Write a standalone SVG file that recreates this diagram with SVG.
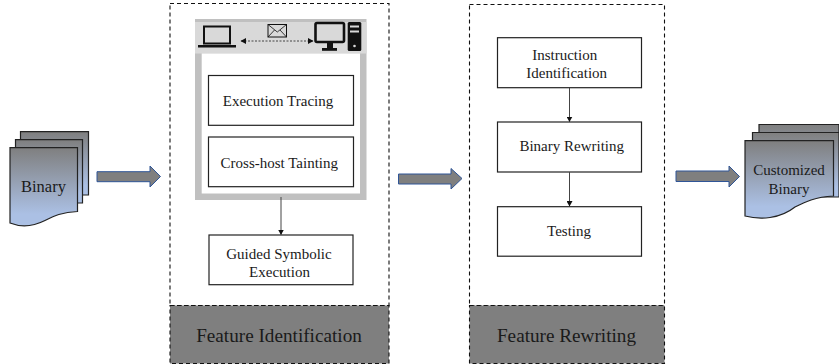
<svg xmlns="http://www.w3.org/2000/svg" width="839" height="364" viewBox="0 0 839 364">
<style>
text{font-family:"Liberation Serif","Times New Roman",serif;fill:#1a1a1a;text-anchor:middle}
.t{font-size:15px}
.h{font-size:19.200px}
.box{fill:#fff;stroke:#222;stroke-width:1.200}
.panel{fill:#fff;stroke:#111;stroke-width:1.100;stroke-dasharray:4 3}
.band{fill:#7f7f7f;stroke:#111;stroke-width:1.100;stroke-dasharray:4 3}
.doc{fill:url(#g);stroke:#222;stroke-width:1.200}
.big{fill:#7f7f7f;stroke:#2f5597;stroke-width:1}
.c{stroke:#444;stroke-width:1;fill:none}
.ic{fill:#111;stroke:none}
.il{fill:none;stroke:#111}
</style>
<defs>
<linearGradient id="g" x1="0" y1="0" x2="0" y2="1"><stop offset="0" stop-color="#7f7f7f"/><stop offset=".85" stop-color="#abc0e4"/></linearGradient>
<marker id="a" markerWidth="6" markerHeight="6" refX="5" refY="3" orient="auto"><path d="M0 0L5.500 3L0 6Z" fill="#111"/></marker>
<marker id="b" markerWidth="6" markerHeight="6" refX="1" refY="3" orient="auto"><path d="M6 0L0.500 3L6 6Z" fill="#111"/></marker>
</defs>
<g id="binary">
<path class="doc" d="M20.500 131.700H88.500V195H20.500Z"/>
<path class="doc" d="M15.500 139.700H82.500V203H15.500Z"/>
<path class="doc" d="M10 147.700H77.500V211.500C62 212 54 216 45 220.500C32 227 20 227 10 223Z"/>
<text x="43.500" y="192" font-size="16.500">Binary</text>
</g>
<g id="customized-binary">
<path class="doc" d="M759 124.500H839V196H759Z"/>
<path class="doc" d="M752.500 132.500H839V197H752.500Z"/>
<path class="doc" d="M745 140.700H833.500V196C815 197 805 202 795 207C780 219 760 220 745 216Z"/>
<text class="t" x="789" y="175">Customized</text>
<text class="t" x="789" y="193.500">Binary</text>
</g>
<g id="panel-identification">
<rect class="panel" x="170" y="3.500" width="219" height="302"/>
<rect class="band" x="170" y="305.500" width="219" height="58"/>
<text class="h" x="279" y="342">Feature Identification</text>
</g>
<g id="panel-rewriting">
<rect class="panel" x="469.500" y="4.500" width="195" height="301"/>
<rect class="band" x="469.500" y="305.500" width="195" height="58"/>
<text class="h" x="566.500" y="342">Feature Rewriting</text>
</g>
<g id="host-frame">
<rect x="195" y="19" width="171.500" height="181" fill="#c0c0c0"/>
<rect x="195" y="22" width="171.500" height="31.500" fill="#d9d9d9"/>
<rect x="201.700" y="53.500" width="158.300" height="140" fill="#fff"/>
</g>
<g id="laptop">
<rect class="il" x="204" y="26.500" width="26" height="17" stroke-width="2"/>
<rect class="ic" x="198" y="45" width="38" height="2.500"/>
</g>
<g id="envelope">
<rect class="il" x="268" y="24.500" width="18.500" height="12.500" stroke-width="1"/>
<path class="il" d="M268 24.500L277.300 32L286.500 24.500M268 37L274.500 30M286.500 37L280 30" stroke-width=".8"/>
</g>
<g id="desktop">
<rect class="il" x="315.500" y="23" width="28.500" height="19" rx="1.500" stroke-width="2.600"/>
<rect class="ic" x="327" y="43" width="6" height="6"/>
<rect class="ic" x="322" y="48" width="15" height="2.800"/>
<rect class="ic" x="347.700" y="22" width="13.600" height="29" rx="1.500"/>
<rect x="350" y="25.500" width="9" height="2" fill="#d9d9d9"/>
<rect x="350" y="30.500" width="9" height="2" fill="#d9d9d9"/>
<circle cx="354.500" cy="46" r="1.300" fill="#d9d9d9"/>
</g>
<g id="execution-tracing">
<rect class="box" x="208.500" y="75.500" width="145" height="49.800"/>
<text class="t" x="278" y="106">Execution Tracing</text>
</g>
<g id="cross-host-tainting">
<rect class="box" x="208.500" y="137" width="145" height="49.700"/>
<text class="t" x="279.300" y="168">Cross-host Tainting</text>
</g>
<g id="guided-symbolic-execution">
<rect class="box" x="209" y="235" width="144" height="49.700"/>
<text class="t" x="279" y="259">Guided Symbolic</text>
<text class="t" x="279.500" y="277">Execution</text>
</g>
<g id="instruction-identification">
<rect class="box" x="497.500" y="37.700" width="144" height="50"/>
<text class="t" x="564.700" y="60">Instruction</text>
<text class="t" x="566.700" y="78">Identification</text>
</g>
<g id="binary-rewriting">
<rect class="box" x="497.500" y="122" width="144" height="50"/>
<text class="t" x="571.700" y="151">Binary Rewriting</text>
</g>
<g id="testing">
<rect class="box" x="497.500" y="206.700" width="144" height="49.500"/>
<text class="t" x="569" y="236">Testing</text>
</g>
<g id="connectors">
<path class="big" d="M97 171.700H150V166L160.500 176.500L150 187V181.700H97Z"/>
<path class="big" d="M398.500 174H451V168.500L462 178.500L451 189V184H398.500Z"/>
<path class="big" d="M676 171H729V166L739.500 176.500L729 187V181.500H676Z"/>
<path class="c" d="M281 197V234.500" marker-end="url(#a)"/>
<path class="c" d="M569.500 88V121.500" marker-end="url(#a)"/>
<path class="c" d="M569.500 172V206" marker-end="url(#a)"/>
<path class="c" d="M241 41H313" stroke-dasharray="2 1.500" stroke-width=".8" marker-start="url(#b)" marker-end="url(#a)"/>
</g>
</svg>
